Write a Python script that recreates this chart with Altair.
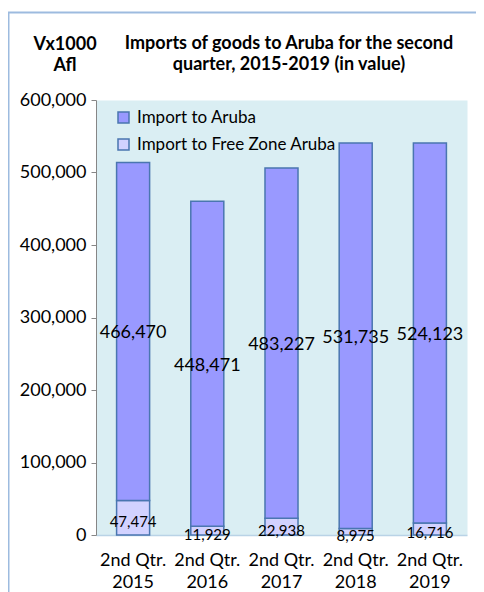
import altair as alt
import pandas as pd

quarters = ["2nd Qtr. 2015", "2nd Qtr. 2016", "2nd Qtr. 2017", "2nd Qtr. 2018", "2nd Qtr. 2019"]
import_aruba = [466470, 448471, 483227, 531735, 524123]
import_free_zone = [47474, 11929, 22938, 8975, 16716]
series_names = ["Import to Aruba", "Import to Free Zone Aruba"]
y_ticks = [0, 100000, 200000, 300000, 400000, 500000, 600000]
title_lines = ["Imports of goods to Aruba for the second", "quarter, 2015-2019 (in value)"]
y_title = ["Vx1000", "Afl"]

rows = []
for q, a, f in zip(quarters, import_aruba, import_free_zone):
    rows.append({"quarter": q, "series": series_names[0], "value": a, "stack_order": 1})
    rows.append({"quarter": q, "series": series_names[1], "value": f, "stack_order": 0})
df = pd.DataFrame(rows)

FONT = "Lato"
W, H = 371, 435
STROKE = "#4A76B0"

base = alt.Chart(df).transform_stack(
    stack="value", groupby=["quarter"], as_=["y0", "y1"],
    sort=[alt.SortField("stack_order", order="ascending")]
).transform_calculate(mid="(datum.y0 + datum.y1) / 2")

y_scale = alt.Scale(domain=[0, 600000], nice=False)
x_scale = alt.Scale(paddingInner=0.555, paddingOuter=0.2775)

x_axis = alt.Axis(
    title=None,
    labelExpr="[slice(datum.label, 0, 8), slice(datum.label, 9)]",
    labelFont=FONT, labelFontSize=18, labelColor="#000000",
    labelLineHeight=22, labelPadding=16, labelAngle=0,
    ticks=False, tickSize=0,
    domainColor="#B9D3E6", domainWidth=1.5,
)
y_axis = alt.Axis(
    values=y_ticks, format=",d", grid=False,
    labelFont=FONT, labelFontSize=18, labelColor="#000000", labelPadding=5,
    tickSize=5, tickColor="#868686", domainColor="#868686",
    title=y_title, titleAngle=0, titleFont=FONT, titleFontSize=18,
    titleFontWeight="bold", titleAlign="center", titleBaseline="top",
    titleLineHeight=21, titleX=-31.5, titleY=-65, titleColor="#000000",
)

X = alt.X("quarter:N", sort=quarters, scale=x_scale, axis=x_axis)

bars = base.mark_bar(stroke=STROKE, strokeWidth=1.5).encode(
    x=X,
    y=alt.Y("y0:Q", scale=y_scale, axis=y_axis),
    y2="y1:Q",
    color=alt.Color(
        "series:N",
        scale=alt.Scale(domain=series_names, range=["#9999FF", "#D2D2FF"]),
        legend=alt.Legend(
            title=None, orient="none", legendX=19, legendY=9,
            symbolType="square", symbolSize=121,
            symbolStrokeColor=STROKE, symbolStrokeWidth=1.5,
            labelFont=FONT, labelFontSize=17, labelColor="#000000",
            labelOffset=5, rowPadding=9, padding=0, labelLimit=0,
        ),
    ),
    order=alt.Order("stack_order:Q"),
)

labels_big = base.transform_filter(alt.datum.series == series_names[0]).mark_text(
    font=FONT, fontSize=18, dy=2, color="#000000"
).encode(
    x=X,
    y=alt.Y("mid:Q", scale=y_scale, axis=y_axis),
    text=alt.Text("value:Q", format=","),
)

labels_small = base.transform_filter(alt.datum.series == series_names[1]).mark_text(
    font=FONT, fontSize=15, dy=4, color="#000000"
).encode(
    x=X,
    y=alt.Y("mid:Q", scale=y_scale, axis=y_axis),
    text=alt.Text("value:Q", format=","),
)

one = alt.Data(values=[{"k": 1}])

frame_top = alt.Chart(one).mark_rule(color="#9DBBDF", strokeWidth=2).encode(
    x=alt.value(-88), x2=alt.value(W + 60), y=alt.value(-87.5)
)
frame_left = alt.Chart(one).mark_rule(color="#9DBBDF", strokeWidth=2).encode(
    x=alt.value(-87.5), y=alt.value(-88), y2=alt.value(H + 100)
)

title = alt.Chart(one).mark_text(
    text=title_lines, font=FONT, fontSize=18, fontWeight="bold",
    align="center", baseline="top", lineHeight=21, color="#000000"
).encode(x=alt.value(193), y=alt.value(-65))

chart = alt.layer(frame_top, frame_left, bars, labels_big, labels_small, title).properties(
    width=W, height=H,
    autosize=alt.AutoSizeParams(type="none"),
    padding={"left": 88, "top": 92, "right": 9, "bottom": 57},
).configure_view(fill="#DAEEF3", strokeOpacity=0)

chart.save("out.html", embed_options={"renderer": "svg", "actions": False})
